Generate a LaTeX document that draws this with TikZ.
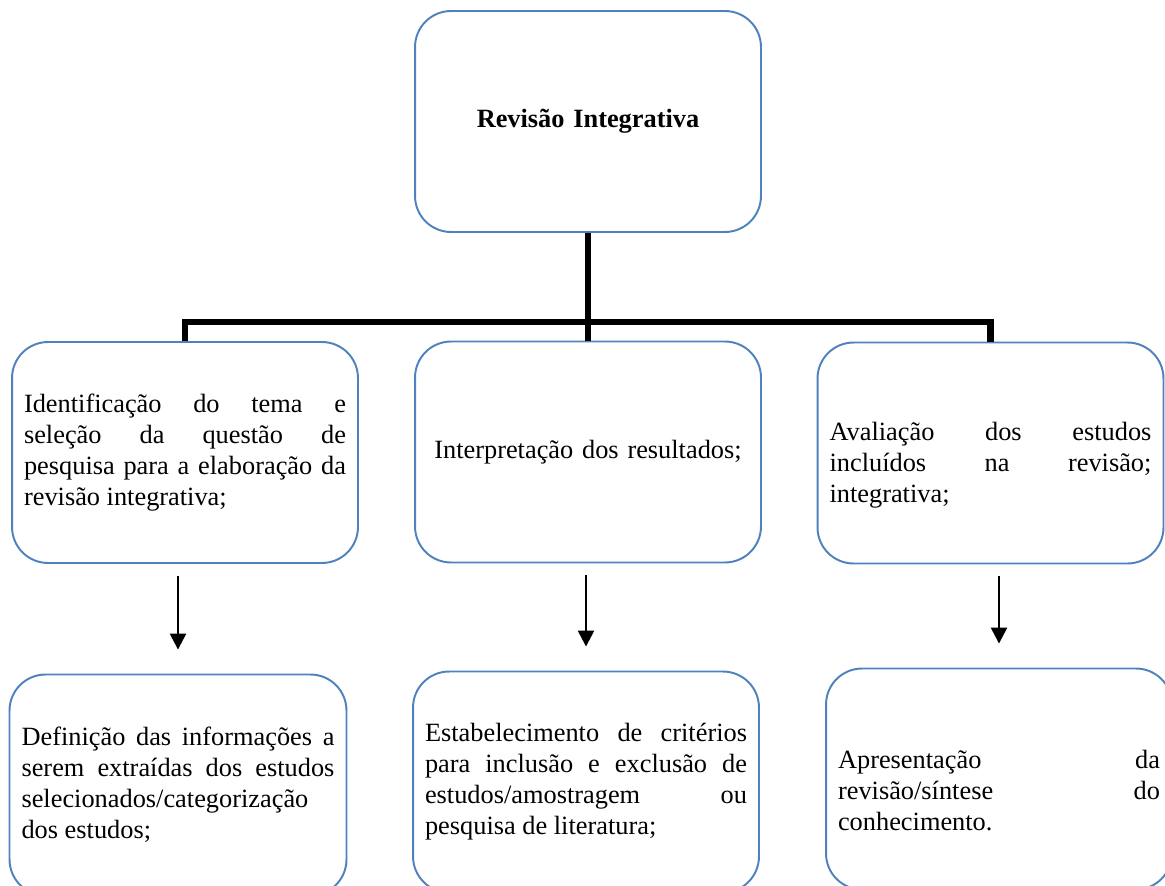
\documentclass[tikz,border=0pt]{standalone}
\usepackage{fontspec}
\setmainfont{Liberation Serif}
\usetikzlibrary{arrows.meta}
\definecolor{azul}{RGB}{79,129,189}

\begin{document}
\begin{tikzpicture}[x=0.02cm,y=-0.02cm,
  caixa/.style={draw=azul, line width=1.1pt, rounded corners=0.72cm,
    minimum width=6.92cm, minimum height=4.42cm, text width=6.44cm,
    align=justify, font=\fontsize{15}{17.6}\selectfont},
  tronco/.style={line width=3.6pt},
  seta/.style={line width=1.4pt,-{Triangle[width=0.32cm,length=0.32cm]}}]
\clip (0,0) rectangle (1165,885);
% caixa de cima
\node[caixa, align=center, font=\fontsize{15}{17.6}\selectfont\bfseries] (rev) at (588,121.5) {Revisão Integrativa};
% primeira linha
\node[caixa] (ident) at (185,452.5) {Identificação\hfill do\hfill tema\hfill e\\ seleção\hfill da\hfill questão\hfill de\\ pesquisa\hfill para\hfill a\hfill elaboração\hfill da\\ revisão integrativa;};
\node[caixa, align=center] (interp) at (588,452) {Interpretação dos resultados;};
\node[caixa] (aval) at (990.5,453) {\rule{0pt}{24pt}Avaliação\hfill dos\hfill estudos\\ incluídos\hfill na\hfill revisão;\\ integrativa;};
% segunda linha
\node[caixa, minimum width=6.74cm, text width=6.26cm] (defin) at (178,785) {Definição\hfill das\hfill informações\hfill a\\ serem\hfill extraídas\hfill dos\hfill estudos\\ selecionados/categorização\\ dos estudos;};
\node[caixa] (estab) at (586,782) {Estabelecimento\hfill de\hfill critérios\\ para\hfill inclusão\hfill e\hfill exclusão\hfill de\\ estudos/amostragem\hfill ou\\ pesquisa de literatura;};
\node[caixa] (apres) at (999,779) {\rule{0pt}{24pt}Apresentação\hfill da\\ revisão/síntese\hfill do\\ conhecimento.};
% ligacoes
\coordinate (barra) at (588,322);
\draw[tronco] (rev.south) -- (interp.north);
\draw[tronco] (ident.north) |- (barra) -| (aval.north);
\draw[seta] ([yshift=-0.24cm]defin.north |- ident.south) -- ([yshift=0.48cm]defin.north);
\draw[seta] ([yshift=-0.24cm]estab.north |- interp.south) -- ([yshift=0.48cm]estab.north);
\draw[seta] ([yshift=-0.24cm]apres.north |- aval.south) -- ([yshift=0.48cm]apres.north);
\end{tikzpicture}
\end{document}
